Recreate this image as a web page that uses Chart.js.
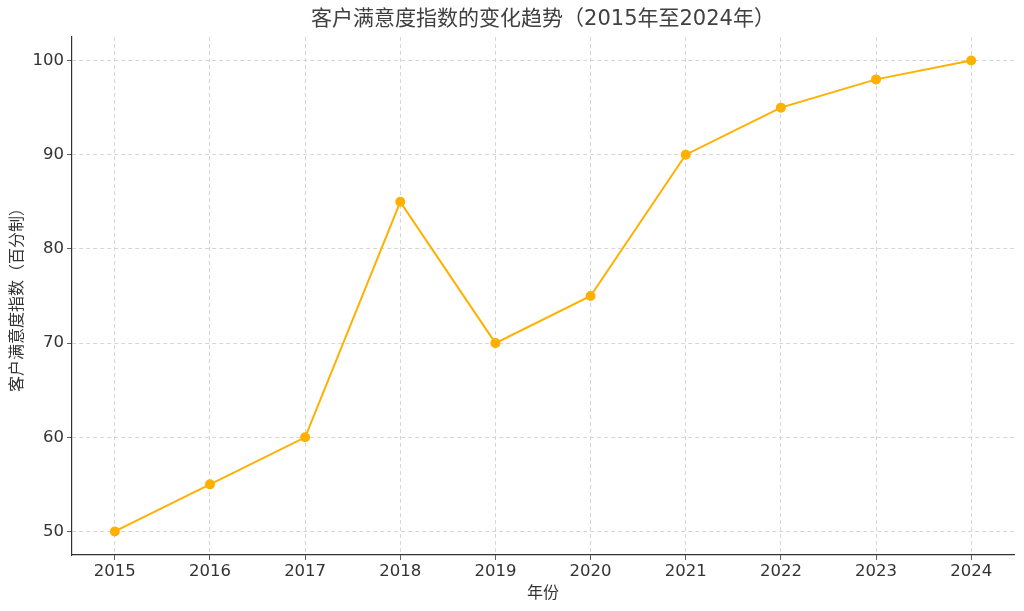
<!DOCTYPE html>
<html>
<head>
<meta charset="utf-8">
<script src="https://cdn.jsdelivr.net/npm/chart.js@4"></script>
<style>
    html, body { margin: 0; padding: 0; background: #fff; }
    #wrap { width: 1024px; height: 611px; }
</style>
</head>
<body>
<div id="wrap"><canvas id="chart"></canvas></div>
<script>
const years = [2015, 2016, 2017, 2018, 2019, 2020, 2021, 2022, 2023, 2024];
const scores = [50, 55, 60, 85, 70, 75, 90, 95, 98, 100];
const yTicks = [50, 60, 70, 80, 90, 100];

const titleText = '客户满意度指数的变化趋势（2015年至2024年）';
const xTitle = '年份';
const yTitle = '客户满意度指数（百分制）';

const FONT = '"DejaVu Sans", "Noto Sans CJK SC", sans-serif';
const INK = '#333333';

// title drawn by hand so the plot top stays fixed
const titlePlugin = {
    id: 'topTitle',
    afterDraw(chart) {
        const ctx = chart.ctx;
        ctx.save();
        ctx.font = '21px ' + FONT;
        ctx.fillStyle = '#404040';
        ctx.textAlign = 'center';
        ctx.textBaseline = 'middle';
        ctx.fillText(titleText, (chart.chartArea.left + chart.chartArea.right) / 2, 20);
        ctx.restore();
    }
};

const points = years.map((y, i) => ({ x: y, y: scores[i] }));

const gridOpts = {
    color: '#cccccc',
    tickBorderDash: [],
    tickColor: INK,
    tickLength: 5,
    lineWidth: 0.8
};

new Chart(document.getElementById('chart'), {
    type: 'line',
    data: {
        datasets: [{
            label: yTitle,
            data: points,
            borderColor: '#ffb000',
            backgroundColor: '#ffb000',
            borderWidth: 2,
            pointRadius: 4,
            pointHoverRadius: 4,
            tension: 0
        }]
    },
    options: {
        responsive: true,
        maintainAspectRatio: false,
        animation: false,
        layout: { padding: { left: 0, right: 10, top: 37, bottom: 0 } },
        plugins: {
            legend: { display: false },
            tooltip: { enabled: false },
            title: { display: false }
        },
        scales: {
            x: {
                type: 'linear',
                min: 2014.55,
                max: 2024.45,
                afterBuildTicks: (scale) => { scale.ticks = years.map(v => ({ value: v })); },
                afterFit: (scale) => { scale.height = 56; },
                ticks: {
                    callback: (v) => String(v),
                    font: { family: FONT, size: 16.5 },
                    color: INK,
                    padding: 2,
                    maxRotation: 0
                },
                grid: gridOpts,
                border: { color: INK, width: 1.2, dash: [4, 3] },
                title: {
                    display: true,
                    text: xTitle,
                    font: { family: FONT, size: 16 },
                    color: INK,
                    padding: { top: 0, bottom: 8 }
                }
            },
            y: {
                min: 47.5,
                max: 102.5,
                afterBuildTicks: (scale) => { scale.ticks = yTicks.map(v => ({ value: v })); },
                afterFit: (scale) => { scale.width = 72; },
                ticks: {
                    font: { family: FONT, size: 16.5 },
                    color: INK,
                    padding: 3
                },
                grid: gridOpts,
                border: { color: INK, width: 1.2, dash: [4, 3] },
                title: {
                    display: true,
                    text: yTitle,
                    font: { family: FONT, size: 16 },
                    color: INK,
                    padding: { top: 8, bottom: 0 }
                }
            }
        }
    },
    plugins: [titlePlugin]
});
</script>
</body>
</html>
